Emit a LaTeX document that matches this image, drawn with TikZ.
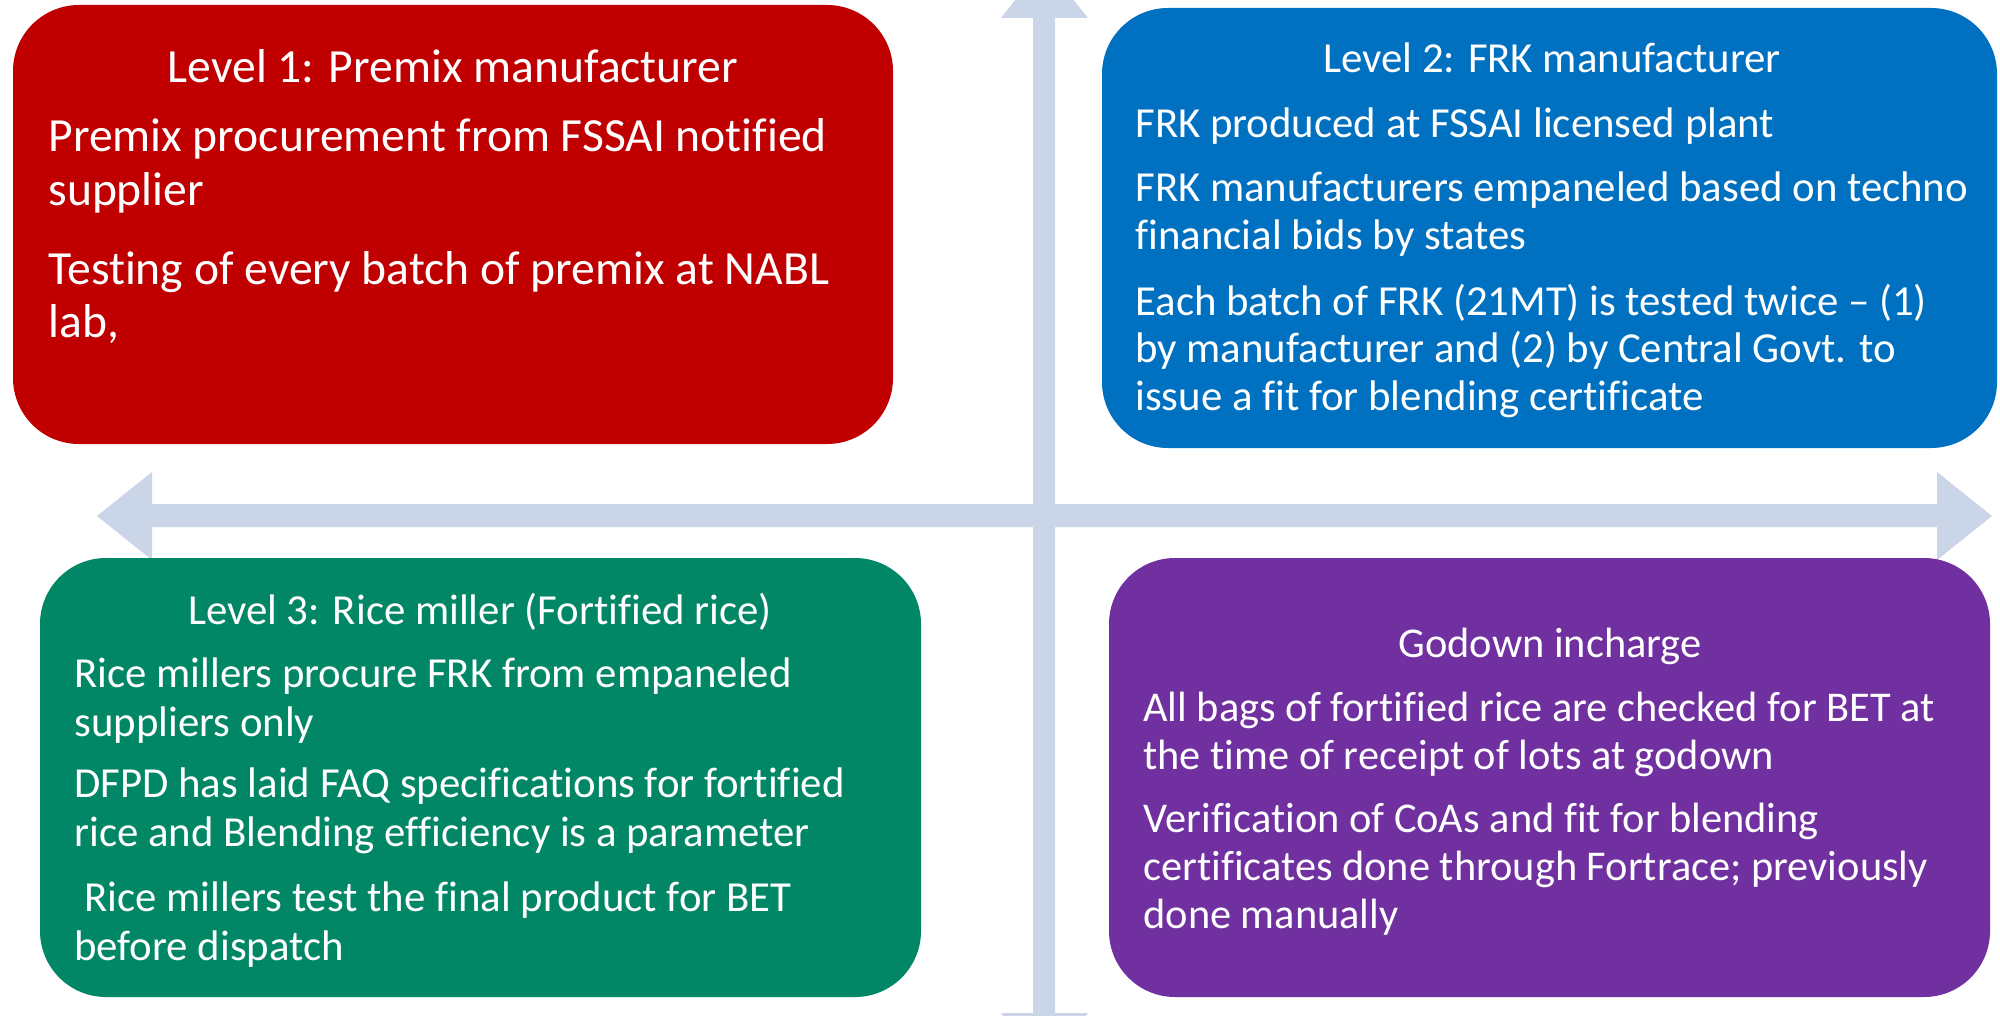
\documentclass[tikz,border=0pt]{standalone}
\usepackage{fontspec}
\setmainfont{Carlito}[Ligatures=NoCommon]
\definecolor{cred}{HTML}{C00000}
\definecolor{cblue}{HTML}{0070C0}
\definecolor{cgreen}{HTML}{028766}
\definecolor{cpurple}{HTML}{7030A0}
\definecolor{carrow}{HTML}{CBD5E8}
\newcommand{\fr}{\fontsize{23.8}{26.8}\selectfont}
\newcommand{\fb}{\fontsize{21.4}{23.9}\selectfont}
\newcommand{\fg}{\fontsize{21.4}{24.7}\selectfont}
\newcommand{\fp}{\fontsize{21.2}{24.2}\selectfont}
\begin{document}
\begin{tikzpicture}[x=0.5pt,y=-0.5pt,
  quad/.style={rounded corners=33pt},
  txt/.style={anchor=base west,inner sep=0pt,text=white},
  ttl/.style={anchor=base,inner sep=0pt,text=white}]
\useasboundingbox (0,0) rectangle (2000,1016);
\begin{scope}
\clip (0,0) rectangle (2000,1016);
% cross arrows
\fill[carrow] (97,516) -- (152,472) -- (152,504) -- (1937,504) -- (1937,472) -- (1992,516)
  -- (1937,560) -- (1937,527) -- (152,527) -- (152,560) -- cycle;
\fill[carrow] (1044,-37) -- (1088,18) -- (1055,18) -- (1055,1013) -- (1088,1013) -- (1044,1068)
  -- (1001,1013) -- (1033,1013) -- (1033,18) -- (1001,18) -- cycle;
\end{scope}
% boxes
\fill[cred,quad] (13,5) rectangle (893,444);
\fill[cblue,quad] (1102,8) rectangle (1997,448);
\fill[cgreen,quad] (40,558) rectangle (921,997);
\fill[cpurple,quad] (1109,558) rectangle (1990,997);
% red
\node[ttl] (rt) at (453,83) {\fr Level 1: Premix manufacturer};
\node[txt] (r1) at (48,152) {\fr\parbox[t]{800pt}{\raggedright Premix procurement from FSSAI notified\\supplier}};
\node[txt] (r2) at (48,284) {\fr\parbox[t]{800pt}{\raggedright Testing of every batch of premix at NABL\\lab,}};
% blue
\node[ttl] (bt) at (1552,73) {\fb Level 2: FRK manufacturer};
\node[txt] (b1) at (1135,138) {\fb\parbox[t]{800pt}{\raggedright FRK produced at FSSAI licensed plant}};
\node[txt] (b2) at (1135,202) {\fb\parbox[t]{800pt}{\raggedright FRK manufacturers empaneled based on techno\\financial bids by states}};
\node[txt] (b3) at (1135,315) {\fb\parbox[t]{800pt}{\raggedright Each batch of FRK (21MT) is tested twice – (1)\\by manufacturer and (2) by Central Govt. to\\issue a fit for blending certificate}};
% green
\node[ttl] (gt) at (480,624) {\fg Level 3: Rice miller (Fortified rice)};
\node[txt] (g1) at (74,687) {\fg\parbox[t]{800pt}{\raggedright Rice millers procure FRK from empaneled\\suppliers only}};
\node[txt] (g2) at (74,797) {\fg\parbox[t]{800pt}{\raggedright DFPD has laid FAQ specifications for fortified\\rice and Blending efficiency is a parameter}};
\node[txt] (g3) at (74,911) {\fg\parbox[t]{800pt}{\raggedright \hspace*{5pt}Rice millers test the final product for BET\\before dispatch}};
% purple
\node[ttl] (pt) at (1550,657) {\fp Godown incharge};
\node[txt] (p1) at (1143,721) {\fp\parbox[t]{800pt}{\raggedright All bags of fortified rice are checked for BET at\\the time of receipt of lots at godown}};
\node[txt] (p2) at (1143,832) {\fp\parbox[t]{800pt}{\raggedright Verification of CoAs and fit for blending\\certificates done through Fortrace; previously\\done manually}};
\end{tikzpicture}
\end{document}
